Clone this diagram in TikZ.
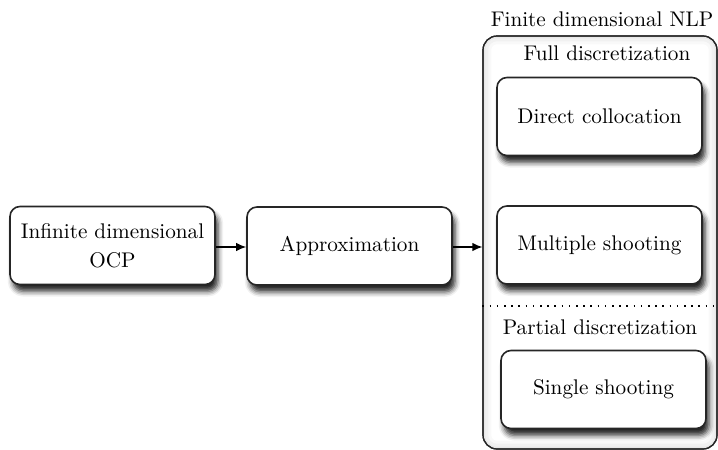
\documentclass[tikz,border=0pt]{standalone}
\usetikzlibrary{arrows.meta,shadows.blur}
\begin{document}
\begin{tikzpicture}[x=0.5pt,y=-0.5pt,
  font=\fontsize{10.6}{14.5}\selectfont,
  stepbox/.style={draw=black!85, line width=0.8pt, fill=white, rounded corners=5pt,
    minimum width=102.5pt, minimum height=39pt, align=center, inner sep=2pt,
    blur shadow={shadow xshift=1.5pt, shadow yshift=-3.4pt, shadow blur radius=2.6pt, shadow opacity=85}},
  frame/.style={draw=black!85, line width=0.6pt, rounded corners=7pt,
    minimum width=117pt, minimum height=206.5pt, inner sep=0pt},
  label/.style={anchor=base, inner sep=0pt},
  flow/.style={-{Latex[length=5pt,width=4.2pt]}, line width=0.6pt}]
\useasboundingbox (0,0) rectangle (718,450);

% container for the finite dimensional problem, with a faint inner glow
\node[frame] (nlp) at (600,242.5) {};
\begin{scope}
  \clip[rounded corners=7pt] (nlp.south west) rectangle (nlp.north east);
  \foreach \w/\o in {9pt/0.025, 6pt/0.03, 3pt/0.035}
    \draw[line width=\w, black, opacity=\o, rounded corners=7pt]
      (nlp.south west) rectangle (nlp.north east);
\end{scope}
\node[frame] at (nlp.center) {};

% headings
\node[label] (title) at (602,26) {Finite dimensional NLP};
\node[label] (full) at (607,60) {Full discretization};
\node[label] (partial) at (600,334) {Partial discretization};

% separator between full and partial discretization
\coordinate (sepL) at (nlp.west |- 0,306);
\coordinate (sepR) at (nlp.east |- 0,306);
\draw[line width=0.6pt, dash pattern=on 0.8pt off 2.8pt] (sepL) -- (sepR);

% method boxes
\node[stepbox] (ocp) at (112.5,245.5) {Infinite dimensional\\OCP};
\node[stepbox] (approx) at (349.5,246) {Approximation};
\node[stepbox] (dc) at (599.5,116.5) {Direct collocation};
\node[stepbox] (ms) at (599.5,245) {Multiple shooting};
\node[stepbox] (ss) at (603.5,389.5) {Single shooting};

% flow
\draw[flow] (ocp.east |- 0,247) -- (approx.west |- 0,247);
\draw[flow] (approx.east |- 0,247) -- (nlp.west |- 0,247);
\end{tikzpicture}
\end{document}
